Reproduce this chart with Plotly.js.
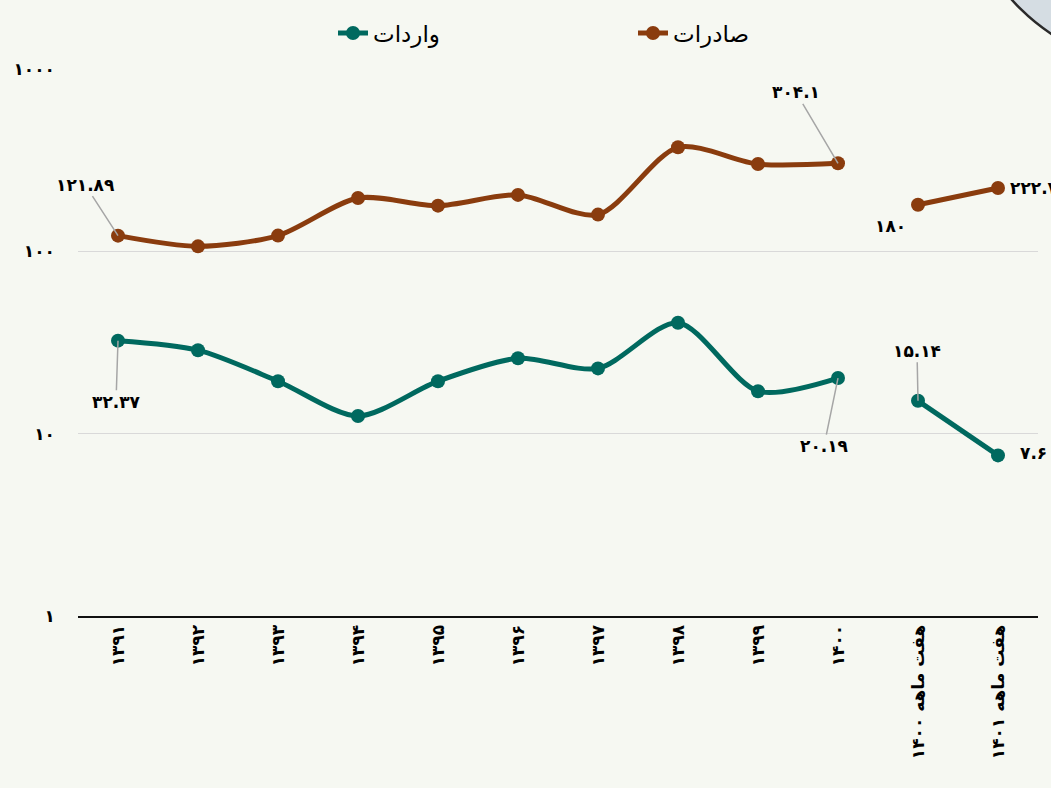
<!DOCTYPE html>
<html>
<head>
<meta charset="utf-8">
<script src="https://cdn.plot.ly/plotly-3.0.1.min.js"></script>
<style>
html,body{margin:0;padding:0;background:#f6f8f2;}
#chart{width:1051px;height:788px;}
</style>
</head>
<body>
<div id="chart"></div>
<script>
// ---- data ----
const categories = ['۱۳۹۱','۱۳۹۲','۱۳۹۳','۱۳۹۴','۱۳۹۵','۱۳۹۶','۱۳۹۷','۱۳۹۸','۱۳۹۹','۱۴۰۰','هفت ماهه ۱۴۰۰','هفت ماهه ۱۴۰۱'];
const exportsAnnual = [121.89, 106.5, 122, 196, 178, 204, 159, 372, 301, 304.1];
const exportsSevenMonth = [180, 222.7];
const importsAnnual = [32.37, 28.7, 19.4, 12.5, 19.4, 25.9, 22.8, 40.6, 17.1, 20.19];
const importsSevenMonth = [15.14, 7.6];
const yTickVals = [1, 10, 100, 1000];
const yTickText = ['۱', '۱۰', '۱۰۰', '۱۰۰۰'];
const exportsName = 'صادرات';
const importsName = 'واردات';

const brown = '#8a3c0e';
const teal = '#00695f';
const fa = s => String(s).replace(/[0-9]/g, d => '۰۱۲۳۴۵۶۷۸۹'[d]);
const FONT = 'DejaVu Sans, Noto Sans, sans-serif';

const annual = categories.slice(0, 10);
const seven = categories.slice(10);

function tr(x, y, name, color, show) {
  return {
    type: 'scatter', mode: 'lines+markers', x: x, y: y, name: name,
    legendgroup: name, showlegend: show,
    line: {color: color, width: 5, shape: 'spline', smoothing: 0.8},
    marker: {color: color, size: 14},
    hoverinfo: 'x+y'
  };
}

const data = [
  tr(annual, importsAnnual, importsName, teal, true),
  tr(seven, importsSevenMonth, importsName, teal, false),
  tr(annual, exportsAnnual, exportsName, brown, true),
  tr(seven, exportsSevenMonth, exportsName, brown, false)
];

const labFont = {family: FONT, size: 17, color: '#000', weight: 'bold'};
function ann(x, y, ax, ay) {
  return {x: x, y: Math.log10(y), text: '<b>' + fa(y) + '</b>', showarrow: true,
    arrowhead: 0, arrowwidth: 1.5, arrowcolor: '#a6a6a6', ax: ax, ay: ay,
    standoff: 0, font: labFont};
}
function annNo(x, y, xs, ys, anchor) {
  return {x: x, y: Math.log10(y), text: '<b>' + fa(y) + '</b>', showarrow: false,
    xshift: xs, yshift: ys, xanchor: anchor, font: labFont};
}

const annotations = [
  ann(annual[0], exportsAnnual[0], -33, -51),
  ann(annual[9], exportsAnnual[9], -42, -71),
  annNo(seven[0], exportsSevenMonth[0], -10, -21, 'right'),
  annNo(seven[1], exportsSevenMonth[1], 10, 0, 'left'),
  ann(annual[0], importsAnnual[0], -2, 61),
  ann(annual[9], importsAnnual[9], -14, 68),
  ann(seven[0], importsSevenMonth[0], -1, -50),
  annNo(seven[1], importsSevenMonth[1], 20, 2, 'left')
];

// decorative circle, top-right corner (pixel -> paper)
const L = 78, T = 64, W = 960, H = 552;
const px = v => (v - L) / W, py = v => (T + H - v) / H;

const layout = {
  width: 1051, height: 788,
  paper_bgcolor: '#f6f8f2', plot_bgcolor: '#f6f8f2',
  margin: {l: L, r: 1051 - L - W, t: T, b: 788 - T - H},
  font: {family: FONT, color: '#000'},
  showlegend: true,
  legend: {orientation: 'h', x: px(333), xanchor: 'left', y: py(6), yanchor: 'top',
    font: {family: FONT, size: 23, color: '#000'}, entrywidth: 255, entrywidthmode: 'pixels',
    bgcolor: 'rgba(0,0,0,0)'},
  xaxis: {type: 'category', categoryorder: 'array', categoryarray: categories,
    range: [-0.5, 11.5], tickangle: -90, showgrid: false, zeroline: false,
    showline: true, linecolor: '#111', linewidth: 2, ticks: '',
    tickfont: {family: FONT, size: 17, color: '#000', weight: 'bold'}, fixedrange: true},
  yaxis: {type: 'log', range: [0, 3], tickvals: yTickVals, ticktext: yTickText,
    showgrid: true, gridcolor: '#d9d9d9', gridwidth: 1.5, zeroline: false, showline: false,
    ticks: '', ticklabelstandoff: 22,
    tickfont: {family: FONT, size: 17, color: '#000', weight: 'bold'}, fixedrange: true},
  annotations: annotations,
  shapes: [{type: 'circle', xref: 'paper', yref: 'paper', layer: 'above',
    x0: px(1162 - 200), x1: px(1162 + 200), y0: py(-138 + 200), y1: py(-138 - 200),
    fillcolor: '#d5dde3', line: {color: '#2a2a2a', width: 2.5}}]
};

Plotly.newPlot('chart', data, layout, {displayModeBar: false, staticPlot: true});
</script>
</body>
</html>
